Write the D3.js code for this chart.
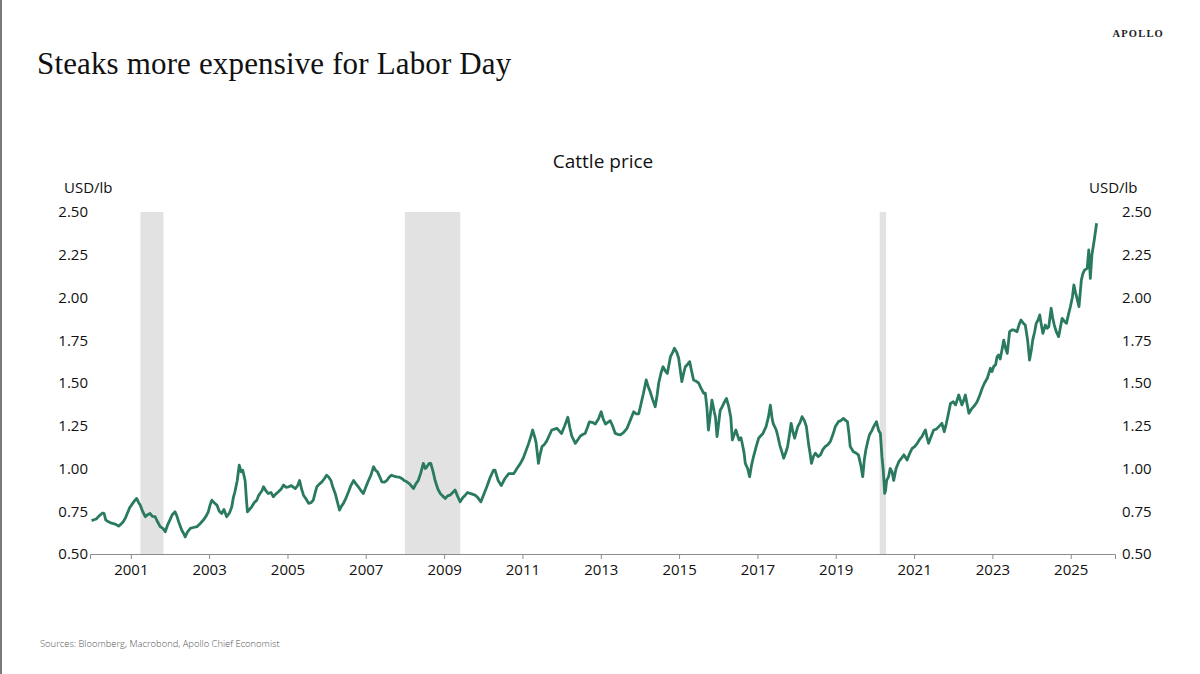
<!DOCTYPE html>
<html>
<head>
<meta charset="utf-8">
<script src="https://cdn.jsdelivr.net/npm/d3@7"></script>
<style>
  html, body { margin: 0; padding: 0; background: #fff; }
  svg { display: block; }
</style>
</head>
<body>
<div id="chart"></div>
<script>
// cattle price, USD/lb (decimal year, price)
var cattle = [
  [2000.00,0.695],[2000.06,0.70],[2000.12,0.705],[2000.18,0.72],[2000.22,0.728],[2000.28,0.74],
  [2000.32,0.737],[2000.36,0.70],[2000.42,0.69],[2000.51,0.68],[2000.60,0.675],[2000.69,0.663],
  [2000.75,0.675],[2000.81,0.69],[2000.86,0.71],[2000.91,0.737],[2000.97,0.77],[2001.03,0.79],
  [2001.09,0.81],[2001.15,0.825],[2001.20,0.80],[2001.24,0.786],[2001.30,0.75],[2001.37,0.718],
  [2001.43,0.73],[2001.49,0.737],[2001.55,0.72],[2001.62,0.718],[2001.68,0.69],[2001.75,0.66],
  [2001.82,0.65],[2001.88,0.63],[2001.94,0.67],[2002.00,0.70],[2002.06,0.73],[2002.13,0.747],
  [2002.18,0.72],[2002.22,0.69],[2002.30,0.64],[2002.35,0.62],[2002.39,0.60],[2002.45,0.63],
  [2002.52,0.65],[2002.60,0.655],[2002.69,0.66],[2002.78,0.68],[2002.86,0.70],[2002.92,0.72],
  [2002.98,0.747],[2003.03,0.79],[2003.07,0.815],[2003.13,0.80],[2003.20,0.786],[2003.26,0.75],
  [2003.32,0.737],[2003.38,0.76],[2003.45,0.718],[2003.52,0.74],[2003.58,0.776],[2003.62,0.83],
  [2003.66,0.864],[2003.72,0.93],[2003.77,1.02],[2003.82,0.98],[2003.86,0.99],[2003.92,0.93],
  [2003.96,0.80],[2003.98,0.747],[2004.03,0.76],[2004.09,0.776],[2004.15,0.80],[2004.22,0.815],
  [2004.26,0.84],[2004.30,0.854],[2004.35,0.87],[2004.39,0.893],[2004.45,0.87],[2004.51,0.854],
  [2004.58,0.86],[2004.64,0.835],[2004.70,0.85],[2004.77,0.864],[2004.84,0.88],[2004.90,0.903],
  [2004.96,0.89],[2005.03,0.893],[2005.10,0.90],[2005.20,0.883],[2005.26,0.90],[2005.31,0.93],
  [2005.36,0.88],[2005.41,0.844],[2005.48,0.82],[2005.54,0.796],[2005.60,0.80],[2005.66,0.815],
  [2005.71,0.86],[2005.75,0.893],[2005.82,0.91],[2005.88,0.922],[2005.94,0.94],[2006.00,0.961],
  [2006.05,0.95],[2006.11,0.93],[2006.16,0.89],[2006.22,0.854],[2006.28,0.80],[2006.33,0.757],
  [2006.38,0.78],[2006.43,0.796],[2006.50,0.83],[2006.56,0.864],[2006.62,0.90],[2006.69,0.93],
  [2006.75,0.91],[2006.81,0.893],[2006.88,0.87],[2006.94,0.854],[2007.00,0.89],[2007.07,0.93],
  [2007.13,0.96],[2007.20,1.01],[2007.25,0.99],[2007.30,0.98],[2007.36,0.95],[2007.41,0.922],
  [2007.48,0.92],[2007.54,0.93],[2007.60,0.95],[2007.66,0.961],[2007.72,0.955],[2007.79,0.951],
  [2007.85,0.95],[2007.92,0.942],[2007.98,0.93],[2008.05,0.922],[2008.12,0.91],[2008.22,0.883],
  [2008.28,0.91],[2008.34,0.93],[2008.40,0.97],[2008.47,1.03],[2008.52,1.00],[2008.56,1.01],
  [2008.62,1.03],[2008.66,1.03],[2008.72,0.98],[2008.77,0.93],[2008.84,0.88],[2008.90,0.854],
  [2008.96,0.84],[2009.03,0.825],[2009.09,0.84],[2009.15,0.844],[2009.22,0.86],[2009.28,0.874],
  [2009.34,0.84],[2009.41,0.805],[2009.48,0.83],[2009.54,0.844],[2009.60,0.86],[2009.66,0.854],
  [2009.72,0.85],[2009.79,0.844],[2009.86,0.83],[2009.94,0.805],[2010.00,0.84],[2010.09,0.893],
  [2010.18,0.95],[2010.26,0.99],[2010.30,0.99],[2010.38,0.93],[2010.46,0.90],[2010.55,0.94],
  [2010.65,0.97],[2010.78,0.97],[2010.86,1.00],[2010.95,1.03],[2011.02,1.06],[2011.07,1.09],
  [2011.16,1.147],[2011.22,1.19],[2011.26,1.225],[2011.32,1.18],[2011.35,1.15],[2011.41,1.03],
  [2011.45,1.08],[2011.50,1.128],[2011.56,1.14],[2011.62,1.16],[2011.68,1.19],[2011.75,1.225],
  [2011.82,1.23],[2011.88,1.235],[2011.94,1.22],[2012.00,1.205],[2012.08,1.25],[2012.16,1.30],
  [2012.21,1.24],[2012.26,1.19],[2012.35,1.147],[2012.42,1.17],[2012.48,1.19],[2012.55,1.20],
  [2012.60,1.205],[2012.66,1.24],[2012.71,1.273],[2012.78,1.27],[2012.86,1.26],[2012.94,1.29],
  [2013.01,1.332],[2013.06,1.29],[2013.12,1.26],[2013.18,1.27],[2013.24,1.28],[2013.30,1.25],
  [2013.37,1.205],[2013.44,1.20],[2013.50,1.197],[2013.58,1.21],[2013.67,1.235],[2013.75,1.28],
  [2013.84,1.332],[2013.90,1.32],[2013.97,1.32],[2014.03,1.38],[2014.09,1.44],[2014.16,1.518],
  [2014.21,1.48],[2014.26,1.45],[2014.33,1.40],[2014.39,1.361],[2014.44,1.43],[2014.48,1.50],
  [2014.54,1.56],[2014.59,1.595],[2014.65,1.57],[2014.70,1.556],[2014.78,1.654],[2014.84,1.68],
  [2014.88,1.703],[2014.94,1.68],[2014.99,1.645],[2015.04,1.56],[2015.07,1.508],[2015.12,1.56],
  [2015.16,1.595],[2015.22,1.61],[2015.27,1.625],[2015.32,1.57],[2015.37,1.518],[2015.44,1.51],
  [2015.50,1.50],[2015.56,1.47],[2015.63,1.44],[2015.67,1.44],[2015.71,1.36],[2015.75,1.225],
  [2015.80,1.32],[2015.84,1.40],[2015.90,1.33],[2015.93,1.30],[2015.97,1.186],[2016.02,1.28],
  [2016.05,1.34],[2016.10,1.36],[2016.14,1.38],[2016.21,1.41],[2016.27,1.36],[2016.32,1.30],
  [2016.36,1.167],[2016.41,1.20],[2016.45,1.225],[2016.53,1.167],[2016.58,1.18],[2016.62,1.137],
  [2016.66,1.09],[2016.69,1.03],[2016.75,1.00],[2016.80,0.952],[2016.85,1.02],[2016.90,1.07],
  [2016.97,1.13],[2017.03,1.177],[2017.08,1.19],[2017.14,1.205],[2017.22,1.245],[2017.28,1.30],
  [2017.33,1.371],[2017.37,1.30],[2017.40,1.264],[2017.48,1.225],[2017.52,1.19],[2017.57,1.137],
  [2017.62,1.10],[2017.67,1.06],[2017.72,1.09],[2017.77,1.128],[2017.82,1.20],[2017.86,1.264],
  [2017.90,1.22],[2017.95,1.177],[2018.03,1.245],[2018.09,1.27],[2018.14,1.303],[2018.20,1.28],
  [2018.25,1.245],[2018.31,1.137],[2018.35,1.08],[2018.38,1.03],[2018.43,1.07],[2018.48,1.09],
  [2018.55,1.07],[2018.61,1.08],[2018.67,1.11],[2018.73,1.128],[2018.80,1.14],[2018.86,1.157],
  [2018.93,1.20],[2018.99,1.245],[2019.07,1.274],[2019.13,1.28],[2019.20,1.293],[2019.26,1.28],
  [2019.30,1.274],[2019.34,1.20],[2019.37,1.128],[2019.42,1.11],[2019.45,1.098],[2019.52,1.09],
  [2019.58,1.08],[2019.64,1.02],[2019.69,0.952],[2019.73,1.05],[2019.77,1.11],[2019.82,1.16],
  [2019.86,1.196],[2019.92,1.22],[2019.97,1.245],[2020.04,1.274],[2020.10,1.22],[2020.14,1.206],
  [2020.18,1.069],[2020.21,1.00],[2020.23,0.93],[2020.25,0.855],[2020.27,0.87],[2020.30,0.93],
  [2020.35,0.953],[2020.39,1.00],[2020.44,0.98],[2020.48,0.93],[2020.54,1.00],[2020.61,1.04],
  [2020.68,1.06],[2020.74,1.08],[2020.82,1.05],[2020.89,1.09],[2020.95,1.118],[2021.02,1.13],
  [2021.08,1.147],[2021.14,1.17],[2021.20,1.186],[2021.25,1.21],[2021.29,1.225],[2021.33,1.18],
  [2021.37,1.147],[2021.44,1.19],[2021.50,1.225],[2021.57,1.23],[2021.63,1.245],[2021.71,1.264],
  [2021.77,1.215],[2021.82,1.26],[2021.86,1.303],[2021.93,1.381],[2022.00,1.39],[2022.06,1.372],
  [2022.14,1.43],[2022.22,1.372],[2022.27,1.40],[2022.31,1.43],[2022.36,1.37],[2022.40,1.323],
  [2022.48,1.352],[2022.55,1.37],[2022.61,1.39],[2022.68,1.43],[2022.74,1.469],[2022.80,1.50],
  [2022.87,1.528],[2022.95,1.586],[2022.99,1.567],[2023.04,1.60],[2023.08,1.605],[2023.12,1.654],
  [2023.16,1.664],[2023.20,1.64],[2023.25,1.70],[2023.29,1.751],[2023.34,1.70],[2023.38,1.673],
  [2023.44,1.80],[2023.50,1.81],[2023.55,1.81],[2023.63,1.80],[2023.68,1.84],[2023.73,1.868],
  [2023.79,1.85],[2023.84,1.839],[2023.90,1.751],[2023.95,1.634],[2024.00,1.70],[2024.03,1.751],
  [2024.08,1.80],[2024.12,1.849],[2024.17,1.87],[2024.21,1.898],[2024.25,1.84],[2024.29,1.79],
  [2024.35,1.839],[2024.40,1.82],[2024.44,1.829],[2024.50,1.937],[2024.54,1.88],[2024.58,1.839],
  [2024.63,1.80],[2024.69,1.771],[2024.74,1.83],[2024.78,1.878],[2024.84,1.86],[2024.89,1.849],
  [2024.94,1.90],[2024.99,1.946],[2025.04,2.00],[2025.08,2.073],[2025.12,2.03],[2025.15,2.004],
  [2025.21,1.946],[2025.27,2.102],[2025.31,2.14],[2025.35,2.16],[2025.42,2.17],[2025.46,2.278],
  [2025.50,2.112],[2025.54,2.249],[2025.60,2.336],[2025.66,2.434]
];

// recession shading (start, end)
var recessions = [
  ["2001-04-01", "2001-11-01"],
  ["2008-01-01", "2009-06-01"],
  ["2020-02-15", "2020-04-15"]
];

var yTicks = [0.50, 0.75, 1.00, 1.25, 1.50, 1.75, 2.00, 2.25, 2.50];
var xTickYears = [2001, 2003, 2005, 2007, 2009, 2011, 2013, 2015, 2017, 2019, 2021, 2023, 2025];

var W = 1200, H = 674;
var sans = "'Open Sans', 'Noto Sans', sans-serif";
var green = "#2a7a62";

function yearToDate(v) {
  var y = Math.floor(v);
  var a = new Date(y, 0, 1), b = new Date(y + 1, 0, 1);
  return new Date(+a + (v - y) * (b - a));
}

var svg = d3.select("#chart").append("svg")
  .attr("width", W)
  .attr("height", H);

// slide border on the left
svg.append("rect")
  .attr("x", 0).attr("y", 0)
  .attr("width", 2).attr("height", H)
  .attr("fill", "#7a7a7a");

svg.append("text")
  .attr("x", 37).attr("y", 74)
  .attr("font-family", "'Liberation Serif', 'DejaVu Serif', serif")
  .attr("font-size", 31)
  .attr("letter-spacing", 0.15)
  .attr("fill", "#111")
  .text("Steaks more expensive for Labor Day");

svg.append("text")
  .attr("x", 1164).attr("y", 37)
  .attr("text-anchor", "end")
  .attr("font-family", "'Liberation Serif', serif")
  .attr("font-size", 10.5)
  .attr("font-weight", "bold")
  .attr("letter-spacing", 1.2)
  .attr("fill", "#222")
  .text("APOLLO");

var x = d3.scaleTime()
  .domain([yearToDate(1999.96), yearToDate(2026.13)])
  .range([90, 1115]);
var y = d3.scaleLinear()
  .domain([0.5, 2.5])
  .range([554, 212]);

svg.append("text")
  .attr("x", 603).attr("y", 168)
  .attr("text-anchor", "middle")
  .attr("font-family", sans)
  .attr("font-size", 19)
  .attr("fill", "#111")
  .text("Cattle price");

// recession bars
svg.append("g").selectAll("rect")
  .data(recessions)
  .enter().append("rect")
  .attr("x", d => x(new Date(d[0])))
  .attr("width", d => Math.max(3, x(new Date(d[1])) - x(new Date(d[0]))))
  .attr("y", y(2.5))
  .attr("height", y(0.5) - y(2.5))
  .attr("fill", "#e1e2e1");

// x axis
var xAxis = d3.axisBottom(x)
  .tickValues(xTickYears.map(d => new Date(d, 0, 1)))
  .tickFormat(d3.timeFormat("%Y"))
  .tickSize(5)
  .tickPadding(5);
var gx = svg.append("g")
  .attr("transform", "translate(0," + y(0.5) + ")")
  .call(xAxis);
gx.select(".domain").attr("stroke", "#8c8c8c");
gx.selectAll(".tick line").attr("stroke", "#8c8c8c");
gx.selectAll(".tick text")
  .attr("font-family", sans)
  .attr("font-size", 15)
  .attr("fill", "#111");

// left and right y axes (labels only)
var yLeft = d3.axisLeft(y).tickValues(yTicks).tickFormat(d3.format(".2f")).tickSize(0).tickPadding(0);
var gyl = svg.append("g").attr("transform", "translate(88,0)").call(yLeft);
var yRight = d3.axisRight(y).tickValues(yTicks).tickFormat(d3.format(".2f")).tickSize(0).tickPadding(0);
var gyr = svg.append("g").attr("transform", "translate(1122,0)").call(yRight);
[gyl, gyr].forEach(function(g) {
  g.select(".domain").remove();
  g.selectAll(".tick text")
    .attr("font-family", sans)
    .attr("font-size", 15)
    .attr("fill", "#111");
});

svg.append("text")
  .attr("x", 64).attr("y", 193)
  .attr("font-family", sans).attr("font-size", 15).attr("fill", "#111")
  .text("USD/lb");
svg.append("text")
  .attr("x", 1089).attr("y", 193)
  .attr("font-family", sans).attr("font-size", 15).attr("fill", "#111")
  .text("USD/lb");

// price line
var line = d3.line()
  .x(d => x(yearToDate(d[0])))
  .y(d => y(d[1]));
svg.append("path")
  .datum(cattle)
  .attr("d", line)
  .attr("fill", "none")
  .attr("stroke", green)
  .attr("stroke-width", 2.8)
  .attr("stroke-linejoin", "round");

svg.append("text")
  .attr("x", 40).attr("y", 647)
  .attr("font-family", sans)
  .attr("font-size", 9.4)
  .attr("font-weight", 300)
  .attr("fill", "#555")
  .text("Sources: Bloomberg, Macrobond, Apollo Chief Economist");
</script>
</body>
</html>
